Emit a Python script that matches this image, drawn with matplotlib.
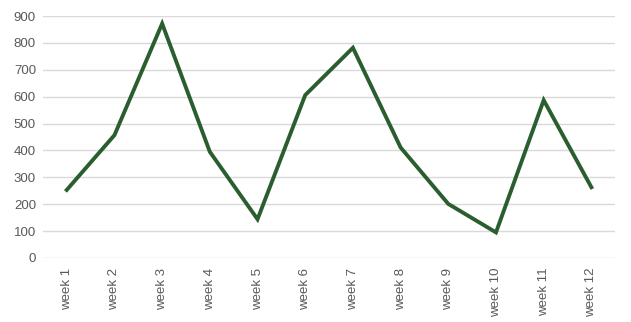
import matplotlib.pyplot as plt

weeks = ["week 1", "week 2", "week 3", "week 4", "week 5", "week 6",
         "week 7", "week 8", "week 9", "week 10", "week 11", "week 12"]
values = [253, 457, 872, 395, 144, 606, 782, 411, 201, 95, 587, 263]
yticks = [0, 100, 200, 300, 400, 500, 600, 700, 800, 900]

plt.rcParams['font.family'] = ['Liberation Sans', 'DejaVu Sans']

fig = plt.figure(figsize=(6.31, 3.22), dpi=100)
ax = fig.add_axes([0.068, 0.199, 0.907, 0.751])

x = list(range(len(weeks)))
ax.plot(x, values, color='#2b5e2f', linewidth=2.8, solid_joinstyle='miter')

ax.set_xlim(-0.5, len(weeks) - 0.5)
ax.set_ylim(0, 900)
ax.set_yticks(yticks)
ax.set_xticks(x)
ax.set_xticklabels(weeks, rotation=90, va='top')
ax.tick_params(axis='both', length=0, colors='#595959', labelsize=9.5)
ax.tick_params(axis='x', pad=7)
ax.tick_params(axis='y', pad=5)
ax.grid(axis='y', color='#d9d9d9', linewidth=1)
ax.set_axisbelow(True)
for s in ax.spines.values():
    s.set_visible(False)

fig.savefig('out.png', dpi=100)
